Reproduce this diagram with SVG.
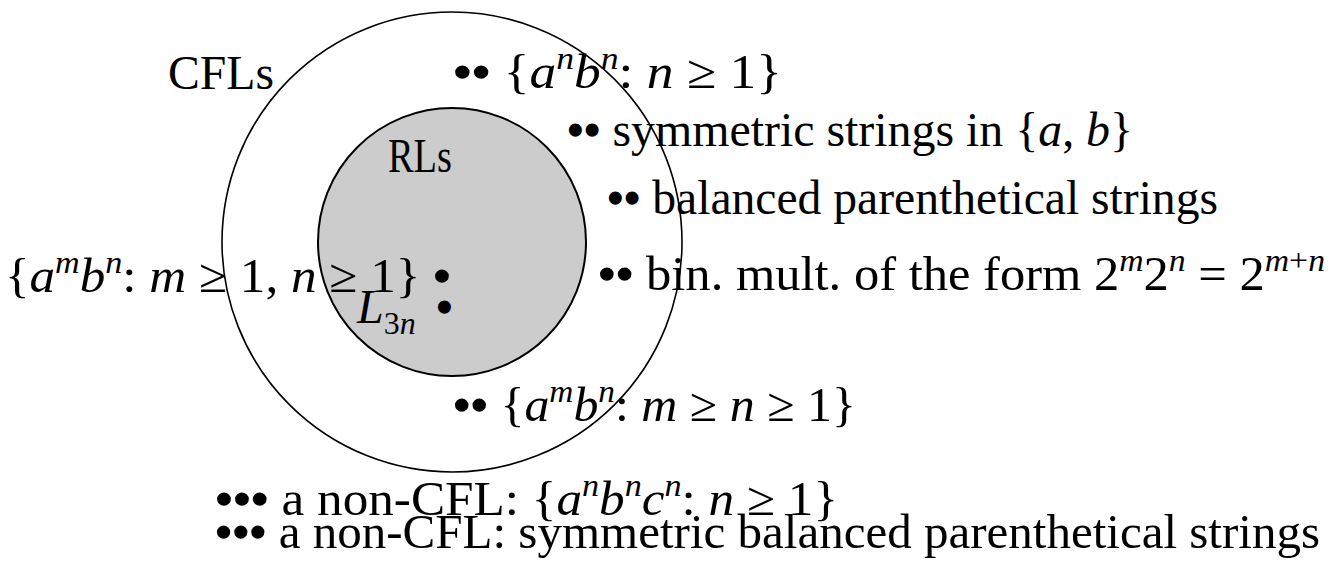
<svg xmlns="http://www.w3.org/2000/svg" width="1331" height="570" viewBox="0 0 1331 570">
<style>
text{font-family:'Liberation Serif','Times New Roman',Times,serif;font-size:48px;fill:#000}
.i{font-style:italic}
.s{font-size:32px;font-style:italic}
.su{font-size:32px}
.b{font-weight:bold}
.outer{fill:none;stroke:#000;stroke-width:1.6}
.inner{fill:#cccccc;stroke:#000;stroke-width:2}
</style>
<rect width="1331" height="570" fill="#fff"/>
<g id="cfl-set"><circle class="outer" cx="452" cy="242" r="230"/></g>
<g id="rl-set"><circle class="inner" cx="452" cy="242" r="134"/></g>
<g id="connectors"></g>
<g id="labels">
<g id="cfls"><text x="168" y="89" textLength="106" lengthAdjust="spacingAndGlyphs">CFLs</text></g>
<g id="rls"><text x="388" y="172" textLength="64" lengthAdjust="spacingAndGlyphs">RLs</text></g>
<g id="anbn"><text x="453" y="88" textLength="329" lengthAdjust="spacingAndGlyphs"><tspan class="b">••</tspan> {<tspan class="i">a</tspan><tspan class="s" dy="-19">n</tspan><tspan class="i" dy="19">b</tspan><tspan class="s" dy="-19">n</tspan><tspan dy="19">: </tspan><tspan class="i">n</tspan> ≥ 1}</text></g>
<g id="sym"><text x="567" y="146" textLength="566" lengthAdjust="spacingAndGlyphs"><tspan class="b">••</tspan> symmetric strings in {<tspan class="i">a</tspan>, <tspan class="i">b</tspan>}</text></g>
<g id="bal"><text x="607" y="214" textLength="611" lengthAdjust="spacingAndGlyphs"><tspan class="b">••</tspan> balanced parenthetical strings</text></g>
<g id="ambn"><text x="5" y="292" textLength="446" lengthAdjust="spacingAndGlyphs">{<tspan class="i">a</tspan><tspan class="s" dy="-19">m</tspan><tspan class="i" dy="19">b</tspan><tspan class="s" dy="-19">n</tspan><tspan dy="19">: </tspan><tspan class="i">m</tspan> ≥ 1, <tspan class="i">n</tspan> ≥ 1} <tspan class="b">•</tspan></text></g>
<g id="bin"><text x="598" y="290" textLength="727" lengthAdjust="spacingAndGlyphs"><tspan class="b">••</tspan> bin. mult. of the form 2<tspan class="s" dy="-19">m</tspan><tspan dy="19">2</tspan><tspan class="s" dy="-19">n</tspan><tspan dy="19"> = 2</tspan><tspan class="s" dy="-19">m</tspan><tspan class="su">+</tspan><tspan class="s">n</tspan></text></g>
<g id="l3n"><text x="357" y="323"><tspan class="i">L</tspan><tspan class="su" dy="11">3</tspan><tspan class="s">n</tspan><tspan class="b" x="436" dy="-11">•</tspan></text></g>
<g id="amgebn"><text x="453" y="421" textLength="403" lengthAdjust="spacingAndGlyphs"><tspan class="b">••</tspan> {<tspan class="i">a</tspan><tspan class="s" dy="-19">m</tspan><tspan class="i" dy="19">b</tspan><tspan class="s" dy="-19">n</tspan><tspan dy="19">: </tspan><tspan class="i">m</tspan> ≥ <tspan class="i">n</tspan> ≥ 1}</text></g>
<g id="anbncn"><text x="215" y="515" textLength="623" lengthAdjust="spacingAndGlyphs"><tspan class="b">•••</tspan> a non-CFL: {<tspan class="i">a</tspan><tspan class="s" dy="-19">n</tspan><tspan class="i" dy="19">b</tspan><tspan class="s" dy="-19">n</tspan><tspan class="i" dy="19">c</tspan><tspan class="s" dy="-19">n</tspan><tspan dy="19">: </tspan><tspan class="i">n</tspan> ≥ 1}</text></g>
<g id="symbal"><text x="215" y="548" textLength="1105" lengthAdjust="spacingAndGlyphs"><tspan class="b">•••</tspan> a non-CFL: symmetric balanced parenthetical strings</text></g>
</g>
</svg>
